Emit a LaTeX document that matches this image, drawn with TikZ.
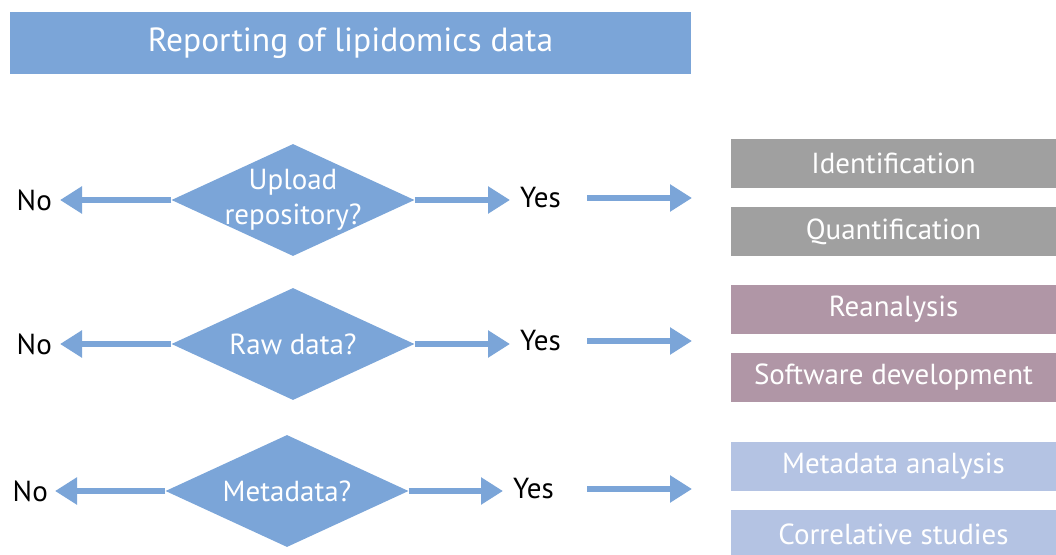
\documentclass[tikz,border=0pt]{standalone}
\usepackage{fontspec}
\setmainfont{PT Sans}
\usetikzlibrary{shapes.geometric,arrows.meta}
\definecolor{mblue}{HTML}{7BA5D8}
\definecolor{mgray}{HTML}{A0A0A0}
\definecolor{mmauve}{HTML}{B096A6}
\definecolor{mlight}{HTML}{B4C3E3}
\tikzset{
  dia/.style={diamond,fill=mblue,draw=none,minimum width=243pt,minimum height=112pt,inner sep=0pt},
  arr/.style={draw=mblue,line width=6pt,-{Triangle[length=22pt,width=26pt]}},
  rbox/.style={rectangle,draw=none,minimum width=325pt,minimum height=49pt,inner sep=0pt,text=white,font=\fontsize{29}{34}\selectfont},
  lab/.style={inner sep=0pt,font=\fontsize{29}{34}\selectfont},
}
\begin{document}
\begin{tikzpicture}[x=1pt,y=-1pt]
\useasboundingbox (0,0) rectangle (1056,554);
\node[rectangle,fill=mblue,minimum width=681pt,minimum height=62pt,inner sep=0pt,text=white,font=\fontsize{33.5}{38}\selectfont] (title) at (350.5,43) {Reporting of lipidomics data};
% row 1
\node[dia,label={[align=center,text=white,font=\fontsize{29}{35}\selectfont]center:Upload\\repository?}] (d1) at (293,200) {};
\node[lab,anchor=east] (no1) at (52,200) {No};
\node[lab,anchor=west] (yes1) at (520,198) {Yes};
\draw[arr] (d1.west) -- ([xshift=8pt]no1.east);
\draw[arr] (d1.east) -- ([xshift=-10pt]yes1.west |- d1.east);
\coordinate (s1) at (587,198);
\coordinate (e1) at (692,198);
\draw[arr] (s1) -- (e1);
\node[rbox,fill=mgray] (b1) at (893.5,163.5) {Identification};
\node[rbox,fill=mgray] (b2) at (893.5,231.5) {Quantification};
% row 2
\node[dia,label={[text=white,font=\fontsize{29}{34}\selectfont]center:Raw data?}] (d2) at (293,344) {};
\node[lab,anchor=east] (no2) at (52,344) {No};
\node[lab,anchor=west] (yes2) at (520,341) {Yes};
\draw[arr] (d2.west) -- ([xshift=8pt]no2.east);
\draw[arr] (d2.east) -- ([xshift=-10pt]yes2.west |- d2.east);
\coordinate (s2) at (587,341);
\coordinate (e2) at (692,341);
\draw[arr] (s2) -- (e2);
\node[rbox,fill=mmauve] (b3) at (893.5,309) {Reanalysis};
\node[rbox,fill=mmauve] (b4) at (893.5,377.5) {Software development};
% row 3
\node[dia,label={[text=white,font=\fontsize{29}{34}\selectfont]center:Metadata?}] (d3) at (287,491) {};
\node[lab,anchor=east] (no3) at (48,491) {No};
\node[lab,anchor=west] (yes3) at (513,489) {Yes};
\draw[arr] (d3.west) -- ([xshift=7pt]no3.east);
\draw[arr] (d3.east) -- ([xshift=-10pt]yes3.west |- d3.east);
\coordinate (s3) at (587,489);
\coordinate (e3) at (692,489);
\draw[arr] (s3) -- (e3);
\node[rbox,fill=mlight] (b5) at (893.5,466.5) {Metadata analysis};
\node[rbox,fill=mlight] (b6) at (893.5,534.5) {Correlative studies};
\end{tikzpicture}
\end{document}
